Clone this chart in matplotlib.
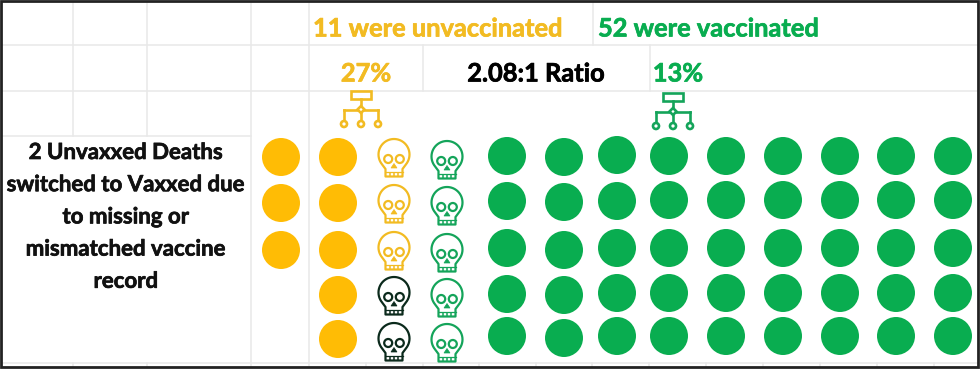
import numpy as np
import matplotlib
matplotlib.use("Agg")
import matplotlib.pyplot as plt
import matplotlib.patheffects as pe
from matplotlib.patches import Circle, Rectangle, Polygon

# values
header_unvax = "11 were unvaccinated"
header_vax = "52 were vaccinated"
pct_unvax = "27%"
pct_vax = "13%"
ratio_label = "2.08:1 Ratio"
note_lines = ["2 Unvaxxed Deaths", "switched to Vaxxed due", "to missing or",
              "mismatched vaccine", "record"]

unvax_alive_cols = [3, 5]
unvax_dead = 3
switched_dead = 2
vax_dead = 5
vax_alive_cols = [5, 5, 5, 5, 5, 5, 5, 5, 5]

YELLOW = "#FFBC05"
YELLOW_LINE = "#F2BB22"
GREEN = "#09AD50"
GREEN_LINE = "#14A45A"
DARK = "#0B2A1C"
GRID = "#E8E8E8"
FRAME = "#222222"

# layout, in pixels of the 980x369 picture
unvax_x = [281, 338]
unvax_rows = [[157, 203, 250], [157, 203, 250, 295, 339]]
skull_y_x, skull_g_x = 394, 447
skull_y_rows = [158, 204, 251, 296, 342]
skull_g_rows = [160, 206, 253, 298, 343]
vax_x = [507, 564, 617, 669, 726, 783, 840, 896, 953]
vax_rows = [155, 200, 248, 293, 336]
vax_row_offset = [[1, 1, 0, 1, 0], [2, 2, 2, 2, 2], [0, 1, 0, 0, 0]]
stub_x = [73, 147, 366, 423, 479, 536, 592, 649, 706, 763, 820, 877, 934]


def draw_skull(ax, cx, cy, color, lw=1.6):
    t = np.radians(np.linspace(-40, 220, 40))
    head = np.column_stack([15.5 * np.cos(t), -3.5 - 15.5 * np.sin(t)])
    jaw = np.array([[-11.5, 7.0], [-8.5, 11.0], [-8.5, 18.5], [8.5, 18.5], [8.5, 11.0], [11.5, 7.0]])
    pts = np.vstack([head, jaw])
    ax.add_patch(Polygon(pts + [cx, cy], closed=True, fill=False, ec=color, lw=lw, joinstyle="round"))
    for sx in (-5.8, 5.8):
        ax.add_patch(Circle((cx + sx, cy + 1), 4.0, fill=False, ec=color, lw=lw))
    ax.add_patch(Polygon([[cx, cy + 5.5], [cx + 3, cy + 10], [cx - 3, cy + 10]], closed=True, fc=color, ec=color, lw=0.5))
    for tx in (-4.2, 0, 4.2):
        ax.plot([cx + tx, cx + tx], [cy + 14, cy + 18.5], color=color, lw=1.1, solid_capstyle="butt")
    ax.plot([cx - 8.5, cx + 8.5], [cy + 13.5, cy + 13.5], color=color, lw=0.9)


def draw_tree(ax, cx, top, color, lw=1.9):
    ax.add_patch(Rectangle((cx - 10, top), 20, 8, fill=False, ec=color, lw=lw))
    node_y = top + 18.5
    leaf_y = top + 33
    ax.plot([cx, cx], [top + 8, leaf_y - 3], color=color, lw=lw)
    ax.plot([cx - 17, cx + 17], [node_y, node_y], color=color, lw=lw)
    for dx in (-17, 17):
        ax.plot([cx + dx, cx + dx], [node_y, leaf_y - 3], color=color, lw=lw)
    for dx in (-17, 0, 17):
        ax.add_patch(Circle((cx + dx, leaf_y), 3.0, fc="white", ec=color, lw=lw, zorder=3))
    ax.add_patch(Polygon([[cx, node_y - 3.5], [cx + 3.5, node_y], [cx, node_y + 3.5], [cx - 3.5, node_y]],
                         closed=True, fc="white", ec=color, lw=lw, zorder=3))


def put_text(ax, x, y, s, color, size, ha):
    t = ax.text(x, y, s, color=color, fontsize=size, ha=ha, va="center", family="Lato", fontweight="bold")
    # reference font is heavier than Lato Bold
    t.set_path_effects([pe.withStroke(linewidth=0.5, foreground=color)])


fig = plt.figure(figsize=(9.8, 3.69), dpi=100)
ax = fig.add_axes([0, 0, 1, 1])
ax.set_xlim(0, 980)
ax.set_ylim(369, 0)
ax.axis("off")

# spreadsheet grid
for y in (45, 90.5):
    ax.plot([2, 978], [y, y], color=GRID, lw=1.1, zorder=0)
ax.plot([2, 251], [136, 136], color=GRID, lw=1.1, zorder=0)
ax.plot([2, 978], [363, 363], color=GRID, lw=1.1, zorder=0)
for x in (73, 147):
    ax.plot([x, x], [2, 136], color=GRID, lw=1.1, zorder=0)
for x in (251, 308.5):
    ax.plot([x, x], [2, 366], color=GRID, lw=1.1, zorder=0)
ax.plot([592.5, 592.5], [2, 45], color=GRID, lw=1.1, zorder=0)
for x in (423, 649.5):
    ax.plot([x, x], [45, 90.5], color=GRID, lw=1.1, zorder=0)
for x in stub_x:
    ax.plot([x, x], [363, 366], color=GRID, lw=1.1, zorder=0)

# frame
ax.add_patch(Rectangle((1.2, 1.2), 976.8, 365.3, fill=False, ec=FRAME, lw=2.0, zorder=5))

# unvaccinated, alive
for x, rows, n in zip(unvax_x, unvax_rows, unvax_alive_cols):
    for y in rows[:n]:
        ax.add_patch(Circle((x, y), 19, fc=YELLOW, ec="none"))

# skulls
for i in range(unvax_dead + switched_dead):
    draw_skull(ax, skull_y_x, skull_y_rows[i], YELLOW_LINE if i < unvax_dead else DARK)
for i in range(vax_dead):
    draw_skull(ax, skull_g_x, skull_g_rows[i], GREEN_LINE)

# vaccinated, alive
for c, n in enumerate(vax_alive_cols):
    off = vax_row_offset[c] if c < len(vax_row_offset) else [1, 0, 0, 0, 0]
    for r in range(n):
        ax.add_patch(Circle((vax_x[c], vax_rows[r] + off[r]), 19, fc=GREEN, ec="none"))

draw_tree(ax, 361, 91, YELLOW_LINE)
draw_tree(ax, 673, 93, GREEN_LINE)

put_text(ax, 313, 29, header_unvax, YELLOW_LINE, 18.3, "left")
put_text(ax, 598, 29, header_vax, GREEN, 18.3, "left")
put_text(ax, 366, 74, pct_unvax, YELLOW_LINE, 18.3, "center")
put_text(ax, 536, 74, ratio_label, "black", 18.3, "center")
put_text(ax, 678, 74, pct_vax, GREEN, 18.3, "center")
for i, line in enumerate(note_lines):
    put_text(ax, 126, 152.5 + i * 32.2, line, "#111111", 16, "center")

fig.savefig("out.png", dpi=100)
